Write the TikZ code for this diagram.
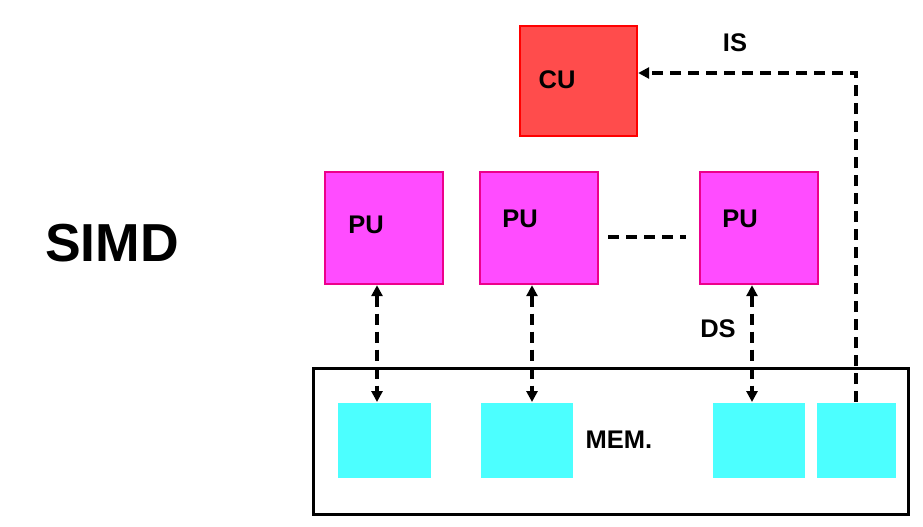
\documentclass[tikz,border=0pt]{standalone}
\usepackage{fontspec}
\setmainfont{Liberation Sans}
\usetikzlibrary{arrows.meta}
\definecolor{cured}{HTML}{FF4C4C}
\definecolor{pumag}{HTML}{FF4CFF}
\definecolor{memcyan}{HTML}{4CFFFF}
\begin{document}
\begin{tikzpicture}[x=1pt,y=-1pt,
  box/.style={draw, line width=2.2pt, anchor=north west, inner sep=0pt},
  lbl/.style={font=\bfseries\fontsize{25.5}{25.5}\selectfont, inner sep=0pt},
  conn/.style={line width=3.2pt, dash pattern=on 11pt off 7pt},
  tip/.style={-{Triangle[length=11pt,width=11pt]}},
  tips/.style={{Triangle[length=11pt,width=11pt]}-{Triangle[length=11pt,width=11pt]}}]
\useasboundingbox (0,0) rectangle (923,527);
\node[font=\bfseries\fontsize{53.5}{53.5}\selectfont, inner sep=0pt] (simd) at (112,243) {SIMD};
\node[box, draw=red, fill=cured, minimum width=117pt, minimum height=110pt] (cu) at (519,25) {};
\node[lbl] (cut) at (557,80) {CU};
\node[box, draw=magenta, fill=pumag, minimum width=118pt, minimum height=112pt] (pu1) at (324,171) {};
\node[box, draw=magenta, fill=pumag, minimum width=118pt, minimum height=112pt] (pu2) at (479,171) {};
\node[box, draw=magenta, fill=pumag, minimum width=118pt, minimum height=112pt] (pu3) at (699,171) {};
\node[lbl] (pu1t) at (366,225) {PU};
\node[lbl] (pu2t) at (520,219) {PU};
\node[lbl] (pu3t) at (740,219) {PU};
\node[box, draw=black, line width=2.8pt, minimum width=595pt, minimum height=146pt] (mem) at (312,367) {};
\node[box, draw=none, fill=memcyan, minimum width=93pt, minimum height=75pt] (m1) at (337,402) {};
\node[box, draw=none, fill=memcyan, minimum width=92pt, minimum height=75pt] (m2) at (480,402) {};
\node[box, draw=none, fill=memcyan, minimum width=92pt, minimum height=75pt] (m3) at (712,402) {};
\node[box, draw=none, fill=memcyan, minimum width=79pt, minimum height=75pt] (m4) at (816,402) {};
\node[lbl] (memt) at (619,440) {MEM.};
\node[lbl] (ds) at (718,329) {DS};
\node[lbl] (is) at (735,43) {IS};
\coordinate (d1) at (608,237);
\coordinate (d2) at (686,237);
\draw[conn] (d1) -- (d2);
\draw[conn, tips] (pu1.south -| 377,0) -- (m1.north -| 377,0);
\draw[conn, tips] (pu2.south -| 532,0) -- (m2.north -| 532,0);
\draw[conn, tips] (pu3.south -| 752,0) -- (m3.north -| 752,0);
\coordinate (corner) at (856,73);
\draw[conn, tip] (m4.north -| corner) -- (corner) -- (cu.east |- corner);
\end{tikzpicture}
\end{document}
